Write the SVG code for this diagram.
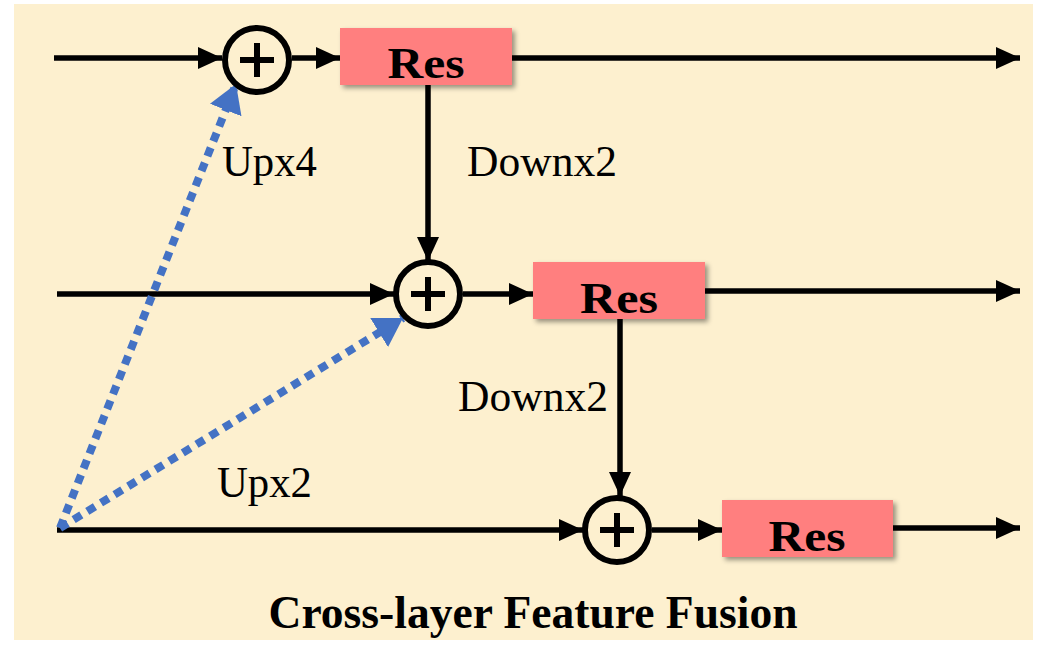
<svg xmlns="http://www.w3.org/2000/svg" width="1038" height="649" viewBox="0 0 1038 649">
<defs>
<style>
.ln{stroke:#000;stroke-width:5.5;fill:none}
.bl{stroke:#4472C4;stroke-width:8;fill:none;stroke-dasharray:9 7}
.box{fill:#FF7F7F}
.cir{fill:none;stroke:#000;stroke-width:6}
.plus{stroke:#000;stroke-width:6}
.lbl{font-family:"Liberation Serif",serif;font-size:44px;fill:#000}
.res{font-family:"Liberation Serif",serif;font-size:45px;font-weight:bold;fill:#000}
.ttl{font-family:"Liberation Serif",serif;font-size:47px;font-weight:bold;fill:#000}
</style>
<marker id="ah" markerUnits="userSpaceOnUse" markerWidth="26" markerHeight="22" refX="24" refY="11" orient="auto">
<path d="M0,0 L24,11 L0,22 Z" fill="#000"/>
</marker>
<marker id="bh" markerUnits="userSpaceOnUse" markerWidth="30" markerHeight="34" refX="28" refY="17" orient="auto">
<path d="M0,0 L28,17 L0,34 Z" fill="#4472C4"/>
</marker>
<filter id="sh" x="-10%" y="-20%" width="130%" height="150%">
<feDropShadow dx="3" dy="3" stdDeviation="2.5" flood-color="#000" flood-opacity="0.4"/>
</filter>
</defs>
<rect x="0" y="0" width="1038" height="649" fill="#fff"/>
<rect x="14" y="4" width="1019" height="636" fill="#FDF0CF"/>

<g id="connectors">
<line class="ln" x1="54" y1="58" x2="222" y2="58" marker-end="url(#ah)"/>
<line class="ln" x1="292" y1="58" x2="340" y2="58" marker-end="url(#ah)"/>
<line class="ln" x1="512" y1="58" x2="1020" y2="58" marker-end="url(#ah)"/>
<line class="ln" x1="428" y1="85" x2="428" y2="261" marker-end="url(#ah)"/>
<line class="ln" x1="57" y1="294" x2="394" y2="294" marker-end="url(#ah)"/>
<line class="ln" x1="463" y1="294" x2="533" y2="294" marker-end="url(#ah)"/>
<line class="ln" x1="705" y1="291" x2="1020" y2="291" marker-end="url(#ah)"/>
<line class="ln" x1="620" y1="319" x2="620" y2="496" marker-end="url(#ah)"/>
<line class="ln" x1="57" y1="530" x2="583" y2="530" marker-end="url(#ah)"/>
<line class="ln" x1="652" y1="530" x2="722" y2="530" marker-end="url(#ah)"/>
<line class="ln" x1="893" y1="528" x2="1020" y2="528" marker-end="url(#ah)"/>
<line class="bl" x1="60" y1="528" x2="236" y2="84" marker-end="url(#bh)"/>
<line class="bl" x1="60" y1="528" x2="403" y2="318" marker-end="url(#bh)"/>
<text class="lbl" x="222" y="176" textLength="95" lengthAdjust="spacingAndGlyphs">Upx4</text>
<text class="lbl" x="467" y="176" textLength="150" lengthAdjust="spacingAndGlyphs">Downx2</text>
<text class="lbl" x="458" y="411" textLength="150" lengthAdjust="spacingAndGlyphs">Downx2</text>
<text class="lbl" x="217" y="497" textLength="95" lengthAdjust="spacingAndGlyphs">Upx2</text>
</g>

<g id="add1">
<circle class="cir" cx="257" cy="60" r="32"/>
<line class="plus" x1="240" y1="60" x2="274" y2="60"/>
<line class="plus" x1="257" y1="43" x2="257" y2="77"/>
</g>
<g id="res1">
<rect class="box" x="340" y="28" width="172" height="57" filter="url(#sh)"/>
<text class="res" x="426" y="78" text-anchor="middle" textLength="77" lengthAdjust="spacingAndGlyphs">Res</text>
</g>

<g id="add2">
<circle class="cir" cx="428" cy="294" r="32"/>
<line class="plus" x1="411" y1="294" x2="445" y2="294"/>
<line class="plus" x1="428" y1="277" x2="428" y2="311"/>
</g>
<g id="res2">
<rect class="box" x="533" y="262" width="172" height="57" filter="url(#sh)"/>
<text class="res" x="619" y="313" text-anchor="middle" textLength="78" lengthAdjust="spacingAndGlyphs">Res</text>
</g>

<g id="add3">
<circle class="cir" cx="617" cy="530" r="32"/>
<line class="plus" x1="600" y1="530" x2="634" y2="530"/>
<line class="plus" x1="617" y1="513" x2="617" y2="547"/>
</g>
<g id="res3">
<rect class="box" x="722" y="500" width="171" height="57" filter="url(#sh)"/>
<text class="res" x="807" y="551" text-anchor="middle" textLength="77" lengthAdjust="spacingAndGlyphs">Res</text>
</g>

<g id="title">
<text class="ttl" x="533" y="628" text-anchor="middle" textLength="529" lengthAdjust="spacingAndGlyphs">Cross-layer Feature Fusion</text>
</g>
</svg>
